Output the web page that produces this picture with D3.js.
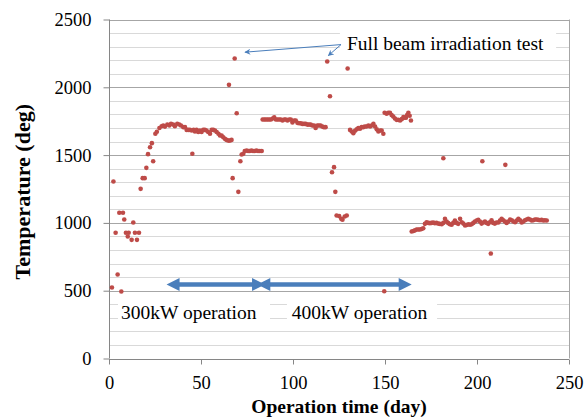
<!DOCTYPE html>
<html lang="en">
  <head>
    <meta charset="utf-8">
    <title>Target temperature</title>
    <style>
      body { margin: 0; background: #fff; }
      svg text { font-family: "Liberation Serif", "Times New Roman", Times, "DejaVu Serif", serif; fill: #000; }
    </style>
  </head>
  <body>
    <svg id="chart"></svg>

    <script src="https://d3js.org/d3.v7.min.js"></script>

    <script type="text/javascript">
      // axis ticks
      const xTicks = [0, 50, 100, 150, 200, 250];
      const yTicks = [0, 500, 1000, 1500, 2000, 2500];

      // [day, temperature], grouped by phase
      const startup = [[1.6,524],[2.4,1305],[3.6,927],[4.7,619],[5.6,1075],[6.7,494],[7.6,1075],[8.3,1025],
        [9.2,927],[10.2,900],[10.7,927],[12.3,875],[13.2,1003],[14.1,927],[15.2,875],[16.3,927],[17.2,1251],
        [18.3,1330],[19.4,1330],[20.3,1406],[21.2,1507],[22.3,1558],[23.3,1588],[24.0,1455],[25.2,1657],[26.0,1672]];

      const run300 = [[27.4,1700],[28.6,1713],[29.5,1718],[30.4,1710],[31.7,1726],[32.8,1718],[33.7,1731],
        [34.9,1726],[35.8,1713],[37.1,1731],[38.2,1726],[39.1,1718],[40.4,1706],[41.3,1706],[42.2,1686],
        [43.1,1686],[44.0,1686],[45.0,1681],[46.0,1686],[46.7,1674],[47.6,1686],[48.5,1670],[49.4,1681],
        [50.3,1670],[51.2,1686],[52.1,1686],[53.0,1681],[53.9,1670],[54.9,1657],[55.8,1686],[56.7,1686],
        [57.6,1681],[58.5,1670],[59.5,1657],[60.3,1645],[61.2,1645],[62.1,1632],[63.0,1620],[63.9,1612],
        [64.8,1607],[65.7,1607],[66.6,1612]];

      const beamTest1 = [[65.2,2018],[67.2,1330],[68.3,2212],[69.4,1809],[70.3,1229],[71.4,1455]];

      const run300b = [[72.1,1504],[73.0,1510],[73.8,1530],[74.8,1534],[75.6,1530],[76.5,1530],[77.4,1534],
        [78.3,1530],[79.2,1530],[80.1,1534],[81.0,1530],[82.0,1530],[83.0,1530]];

      const run400 = [[83.5,1762],[84.4,1762],[85.3,1762],[86.2,1762],[87.1,1762],[88.0,1762],[89.0,1770],
        [89.8,1778],[90.7,1762],[91.6,1762],[92.5,1762],[93.4,1762],[94.3,1755],[95.2,1762],[96.1,1762],
        [97.0,1755],[97.9,1762],[98.8,1762],[99.7,1740],[100.6,1755],[101.5,1755],[102.4,1738],[103.3,1735],
        [104.2,1735],[105.1,1730],[106.0,1730],[106.9,1730],[107.8,1725],[108.7,1725],[109.6,1725],
        [110.5,1718],[111.4,1718],[112.3,1700],[113.2,1718],[114.1,1718],[115.0,1718],[115.9,1710],
        [116.8,1706],[117.7,1706]];

      const beamTest2 = [[118.6,2190],[120.1,1934],[121.2,1374],[122.3,1411],[123.0,1229],[123.7,1055],
        [125.1,1050],[126.2,1030],[126.9,1023],[128.1,1047],[129.2,1055],[129.7,2139]];

      const run400b = [[131.0,1686],[131.9,1674],[132.8,1662],[133.7,1680],[134.6,1690],[135.5,1699],
        [136.4,1694],[137.3,1706],[138.2,1706],[139.1,1711],[140.0,1711],[141.0,1718],[141.9,1711],
        [142.8,1718],[143.7,1731],[144.6,1711],[145.5,1690],[146.4,1674],[147.3,1681],[148.2,1681],
        [149.1,1657],[149.8,1812],[150.9,1805],[151.8,1812],[152.7,1812],[153.6,1795],[154.5,1785],
        [155.4,1770],[156.3,1760],[157.2,1760],[158.2,1755],[159.1,1765],[160.0,1780],[160.7,1775],
        [161.4,1775],[162.0,1795],[162.7,1812],[163.4,1790],[164.1,1755]];

      const lateRun = [[164.5,937],[165.4,940],[166.3,945],[167.2,951],[168.1,951],[169.0,951],[169.9,955],
        [170.8,960],[171.7,993],[172.6,1005],[173.5,1000],[174.4,998],[175.3,1000],[176.2,1003],[177.1,998],
        [178.0,1000],[178.9,995],[179.8,993],[180.8,990],[181.7,1000],[182.6,1030],[183.5,1010],[184.4,998],
        [185.3,990],[186.2,986],[187.1,1000],[188.0,1017],[188.9,1000],[189.8,993],[190.8,1030],[191.7,1005],
        [192.6,995],[193.5,981],[194.4,985],[195.3,990],[196.2,986],[197.1,990],[198.0,1000],[198.9,1010],
        [199.8,1018],[200.7,1022],[201.6,1010],[202.5,995],[203.4,1003],[204.3,1010],[205.2,1000],[206.1,993],
        [207.0,1005],[207.9,1020],[208.8,1000],[209.7,995],[210.6,1003],[211.6,1003],[212.5,1018],[213.4,1030],
        [214.3,1020],[215.2,1010],[216.1,1000],[217.0,1010],[218.0,1025],[218.9,1020],[219.8,1010],[220.7,1005],
        [221.6,1018],[222.5,1030],[223.4,1020],[224.3,1003],[225.2,1010],[226.1,1020],[227.0,1025],[227.9,1030],
        [228.8,1025],[229.7,1018],[230.6,1020],[231.5,1025],[232.4,1025],[233.3,1022],[234.2,1020],[235.1,1022],
        [236.0,1018],[236.9,1020],[237.9,1018]];

      const outliers = [[45.3,1510],[149.6,496],[181.7,1477],[202.9,1455],[207.5,774],[215.4,1428]];

      // operation periods: [label, fromDay, toDay]
      const periods = [["300kW operation", 31.3, 84.8], ["400kW operation", 80.6, 164.5]];

      const serif = '"Liberation Serif", "Times New Roman", Times, "DejaVu Serif", serif';
      const W = 585, H = 417;
      const margin = {top: 19.5, right: 16, bottom: 58.5, left: 109};

      const svg = d3.select('#chart')
        .attr('width', W)
        .attr('height', H)
        .style('font-family', serif);

      const x = d3.scaleLinear().domain([0, 250]).range([margin.left, W - margin.right]);
      const y = d3.scaleLinear().domain([0, 2500]).range([H - margin.bottom, margin.top]);

      // gridlines
      svg.append('g')
        .selectAll('line')
        .data(d3.range(0, 2501, 100))
        .join('line')
          .attr('x1', x(0)).attr('x2', x(250))
          .attr('y1', d => Math.round(y(d)) + 0.5).attr('y2', d => Math.round(y(d)) + 0.5)
          .attr('stroke', d => d % 500 === 0 ? '#a6a6a6' : '#d9d9d9')
          .attr('stroke-width', 1);

      // right border
      svg.append('line')
        .attr('x1', x(250) + 0.5).attr('x2', x(250) + 0.5)
        .attr('y1', y(2500)).attr('y2', y(0))
        .attr('stroke', '#a6a6a6');

      // white text boxes hiding the gridlines
      const boxes = [[4.9, 87.5, 457, 236], [96.7, 178.3, 457, 236], [125.5, 243, 2448, 2222]];
      svg.append('g')
        .selectAll('rect')
        .data(boxes)
        .join('rect')
          .attr('x', d => x(d[0]))
          .attr('width', d => x(d[1]) - x(d[0]))
          .attr('y', d => y(d[2]))
          .attr('height', d => y(d[3]) - y(d[2]))
          .attr('fill', '#fff');

      // axes
      const xAxis = svg.append('g')
        .attr('transform', `translate(0,${Math.round(y(0)) + 0.5})`)
        .call(d3.axisBottom(x).tickValues(xTicks).tickFormat(d3.format('d')).tickSize(5).tickPadding(11));
      const yAxis = svg.append('g')
        .attr('transform', `translate(${Math.round(x(0)) + 0.5},0)`)
        .call(d3.axisLeft(y).tickValues(yTicks).tickFormat(d3.format('d')).tickSize(6).tickPadding(12));

      [xAxis, yAxis].forEach(a => {
        a.attr('font-family', serif).attr('font-size', 18.5);
        a.select('.domain').attr('stroke', '#868686');
        a.selectAll('.tick line').attr('stroke', '#868686');
        a.selectAll('.tick text').attr('fill', '#000');
      });
      xAxis.select('.domain').attr('d', `M${x(0)},0H${x(250)}`);
      yAxis.select('.domain').attr('d', `M0,${y(2500)}V${y(0)}`);

      // axis titles
      svg.append('text')
        .attr('x', (x(0) + x(250)) / 2)
        .attr('y', 413)
        .attr('text-anchor', 'middle')
        .attr('font-weight', 'bold')
        .attr('font-size', 19.5)
        .text('Operation time (day)');

      svg.append('text')
        .attr('transform', `translate(30,${y(1230)}) rotate(-90)`)
        .attr('text-anchor', 'middle')
        .attr('font-weight', 'bold')
        .attr('font-size', 22)
        .text('Temperature (deg)');

      // data points
      const allPoints = [].concat(startup, run300, beamTest1, run300b, run400, beamTest2, run400b, lateRun, outliers);
      svg.append('g')
        .selectAll('circle')
        .data(allPoints)
        .join('circle')
          .attr('cx', d => x(d[0]))
          .attr('cy', d => y(d[1]))
          .attr('r', 2.3)
          .attr('fill', '#be4b48');

      // operation period arrows
      const arrowColor = '#4a7ebb';
      const headLen = 13, headHalf = 6.5, arrowY = y(545);
      const arrows = svg.append('g');
      periods.forEach(p => {
        const x1 = x(p[1]), x2 = x(p[2]);
        arrows.append('line')
          .attr('x1', x1 + headLen - 1).attr('x2', x2 - headLen + 1)
          .attr('y1', arrowY).attr('y2', arrowY)
          .attr('stroke', arrowColor)
          .attr('stroke-width', 4.5);
        arrows.append('path')
          .attr('d', `M${x1},${arrowY}L${x1 + headLen},${arrowY - headHalf}L${x1 + headLen},${arrowY + headHalf}Z`)
          .attr('fill', arrowColor);
        arrows.append('path')
          .attr('d', `M${x2},${arrowY}L${x2 - headLen},${arrowY - headHalf}L${x2 - headLen},${arrowY + headHalf}Z`)
          .attr('fill', arrowColor);
      });

      // period labels
      const labelStarts = [6.5, 99.3];
      svg.append('g')
        .selectAll('text')
        .data(periods)
        .join('text')
          .attr('x', (d, i) => x(labelStarts[i]))
          .attr('y', y(292))
          .attr('font-size', 19.5)
          .text(d => d[0]);

      // full beam annotation
      svg.append('defs').append('marker')
        .attr('id', 'tip')
        .attr('viewBox', '0 0 10 10')
        .attr('refX', 9).attr('refY', 5)
        .attr('markerWidth', 7).attr('markerHeight', 6)
        .attr('markerUnits', 'userSpaceOnUse')
        .attr('orient', 'auto')
        .append('path')
          .attr('d', 'M0,0L10,5L0,10L3,5Z')
          .attr('fill', arrowColor);

      const noteFrom = [126.1, 2315];
      const noteTargets = [[73.9, 2259], [119.2, 2234]];
      svg.append('g')
        .selectAll('line')
        .data(noteTargets)
        .join('line')
          .attr('x1', x(noteFrom[0])).attr('y1', y(noteFrom[1]))
          .attr('x2', d => x(d[0])).attr('y2', d => y(d[1]))
          .attr('stroke', arrowColor)
          .attr('stroke-width', 1)
          .attr('marker-end', 'url(#tip)');

      svg.append('text')
        .attr('x', x(129.3))
        .attr('y', y(2276))
        .attr('font-size', 19.5)
        .text('Full beam irradiation test');
    </script>
  </body>
</html>
